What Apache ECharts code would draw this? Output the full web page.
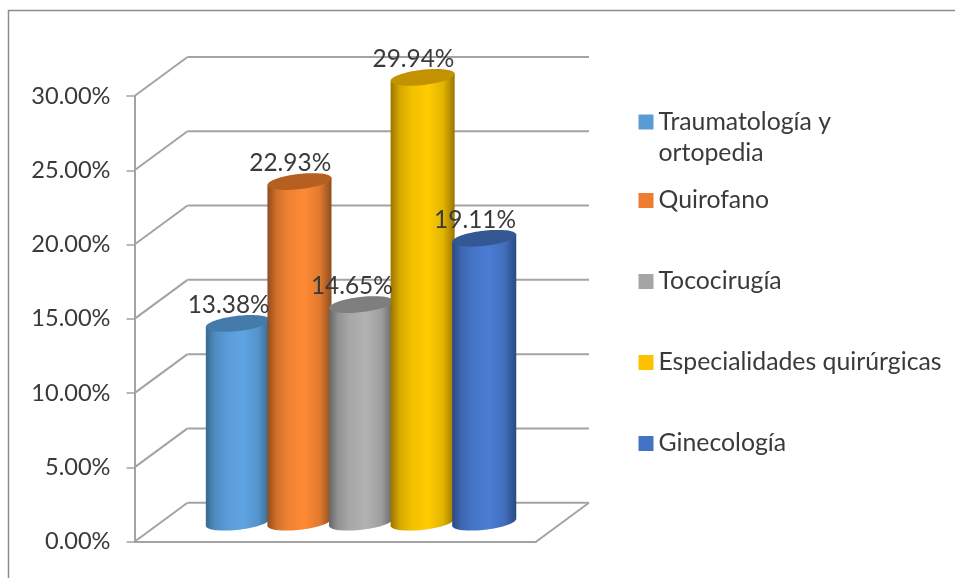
<!DOCTYPE html>
<html><head><meta charset="utf-8">
<style>html,body{margin:0;padding:0;background:#fff}#c{width:956px;height:579px}</style>
<script src="https://cdn.jsdelivr.net/npm/echarts@6/dist/echarts.min.js"></script>
</head><body><div id="c"></div>
<script>
const seriesNames = ['Traumatología y ortopedia','Quirofano','Tococirugía','Especialidades quirúrgicas','Ginecología'];
const seriesValues = [13.38,22.93,14.65,29.94,19.11];
const yTicks = [0,5,10,15,20,25,30];

const legendColors = ['#5B9BD5','#ED7D31','#A5A5A5','#FFC000','#4472C4'];
const sideShades = [
  ['#38688F','#5FA4E3'],['#8F4D1E','#FF8A35'],['#666666','#B2B2B2'],['#9A7500','#FFCC00'],['#2A4A80','#4A7CD4']
];
const capColors = ['#457BAA','#B55F20','#7E7E7E','#C29200','#335894'];
const DEPTH = [53,-39], STEP = 0.1534, WIDTH = 0.1606, TILT = 6.6*Math.PI/180, RY = 7.6;
const font = 'Lato', textColor = '#3A3A3A', gridColor = '#A3A3A3';

function mix(a,b,t){
  const pa=echarts.color.parse(a), pb=echarts.color.parse(b);
  return 'rgb('+[0,1,2].map(k=>Math.round(pa[k]+(pb[k]-pa[k])*t)).join(',')+')';
}
function ellipsePoint(cx,cy,rx,t){
  const c=Math.cos(t), s=Math.sin(t);
  return [cx+rx*c*Math.cos(TILT)+RY*s*Math.sin(TILT), cy-rx*c*Math.sin(TILT)+RY*s*Math.cos(TILT)];
}
function barRenderer(i){
  return function(params,api){
    const band = api.size([1,0])[0];
    const base = api.coord([0,0]), top = api.coord([0,api.value(1)]);
    const cx = base[0]+DEPTH[0]/2-0.7+(i-2)*STEP*band;
    const by = base[1]+DEPTH[1]/2, ty = top[1]+DEPTH[1]/2;
    const rx = WIDTH*band/2;
    const body=[], cap=[];
    for(let k=0;k<=40;k++) body.push(ellipsePoint(cx,by,rx,Math.PI*k/40));
    body.push(ellipsePoint(cx,ty,rx,Math.PI));
    body.push(ellipsePoint(cx,ty,rx,0));
    for(let k=0;k<80;k++) cap.push(ellipsePoint(cx,ty,rx,2*Math.PI*k/80));
    const [d,b]=sideShades[i];
    const grad={type:'linear',x:0,y:0,x2:1,y2:0,colorStops:[
      {offset:0,color:d},{offset:0.14,color:mix(d,b,0.58)},{offset:0.32,color:mix(d,b,0.85)},{offset:0.58,color:b},{offset:0.82,color:mix(d,b,0.72)},{offset:1,color:d}]};
    return {type:'group',children:[
      {type:'polygon',shape:{points:body},style:{fill:grad}},
      {type:'polygon',shape:{points:cap},style:{fill:capColors[i]}},
      {type:'text',z2:100,style:{x:cx-9.2,y:ty-18,text:api.value(1).toFixed(2)+'%',align:'center',verticalAlign:'middle',fill:textColor,font:'24.4px '+font}}
    ]};
  };
}
function wallRenderer(params,api){
  const p=api.coord([0,api.value(0)]);
  const x0=params.coordSys.x, x1=x0+params.coordSys.width;
  const st={stroke:gridColor,lineWidth:2};
  const kids=[
    {type:'line',shape:{x1:x0,y1:p[1],x2:x0+DEPTH[0],y2:p[1]+DEPTH[1]},style:st},
    {type:'line',shape:{x1:x0+DEPTH[0],y1:p[1]+DEPTH[1],x2:x1+DEPTH[0],y2:p[1]+DEPTH[1]},style:st}
  ];
  if(api.value(0)===0) kids.push({type:'line',shape:{x1:x1,y1:p[1],x2:x1+DEPTH[0],y2:p[1]+DEPTH[1]},style:st});
  return {type:'group',children:kids};
}
const legendTops=[75.5,185,266,347,428];
const option={
  animation:false,
  backgroundColor:'#fff',
  textStyle:{fontFamily:font},
  grid:{left:134.5,right:956-536,top:96,bottom:579-541.7},
  xAxis:{type:'category',data:[''],axisLine:{lineStyle:{color:gridColor,width:2}},axisTick:{show:false},axisLabel:{show:false}},
  yAxis:{type:'value',min:0,max:30,interval:5,
    axisLine:{show:true,lineStyle:{color:gridColor,width:2}},
    axisTick:{show:true,length:8,lineStyle:{color:gridColor,width:1.5}},
    splitLine:{show:false},
    axisLabel:{margin:24,fontSize:23.6,fontFamily:font,color:textColor,formatter:v=>v.toFixed(2)+'%'}},
  legend:seriesNames.map((n,i)=>({
    data:[n],left:638.5,top:legendTops[i],orient:'vertical',icon:'rect',itemWidth:15,itemHeight:15,itemGap:0,padding:0,
    formatter:s=>s.includes(' ortopedia')?'\n'+s.replace(' ortopedia','\nortopedia'):s,
    textStyle:{fontSize:24.8,fontFamily:font,color:textColor,lineHeight:31}
  })),
  graphic:[{type:'polyline',silent:true,shape:{points:[[8.5,578],[8.5,10.5],[955,10.5]]},style:{stroke:'#8C8C8C',lineWidth:1.5,fill:null}}],
  series:[
    {type:'custom',name:'pared',data:yTicks.map(v=>[v]),encode:{y:0},renderItem:wallRenderer,z:1,silent:true},
    ...seriesNames.map((n,i)=>({type:'custom',name:n,data:[[0,seriesValues[i]]],encode:{x:0,y:1},renderItem:barRenderer(i),itemStyle:{color:legendColors[i]},z:3}))
  ]
};
const chart=echarts.init(document.getElementById('c'));
chart.setOption(option);
</script></body></html>
